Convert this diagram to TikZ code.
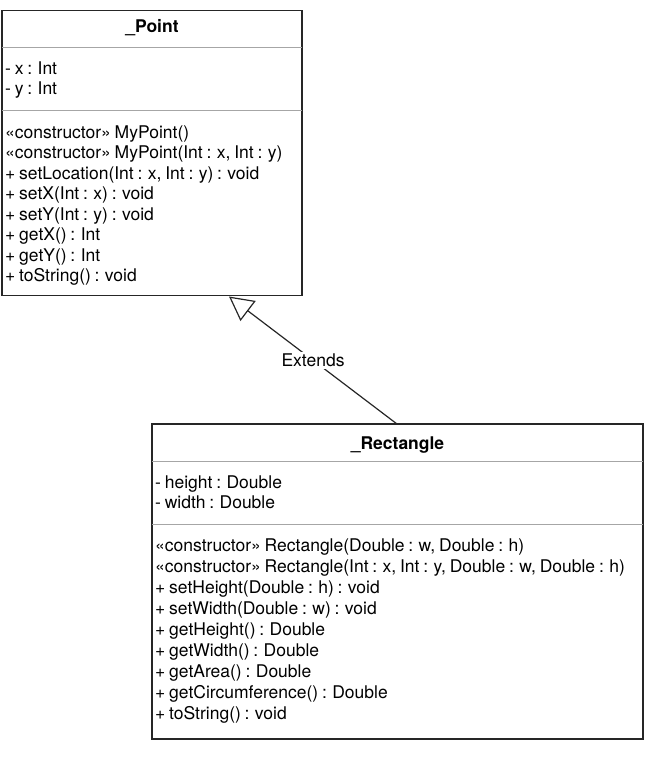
\documentclass[tikz,border=0pt]{standalone}
\usepackage{fontspec}
\setmainfont{TeX Gyre Heros}[WordSpace=0.78]
\usetikzlibrary{arrows.meta}
\begin{document}
\begin{tikzpicture}[x=1pt,y=-1pt,
  box/.style={draw=black!85, line width=1.3pt, fill=white, inner sep=0pt, outer sep=0pt, anchor=north west},
  sep/.style={draw=black!35, line width=1pt},
  row/.style={anchor=base west, inner sep=0pt, font=\fontsize{17.5}{20}\selectfont},
  title/.style={anchor=base, inner sep=0pt, font=\fontsize{17.5}{20}\selectfont\bfseries},
  inherit/.style={draw=black!85, line width=1.2pt, -{Triangle[open, length=24pt, width=25pt]}},
  lbl/.style={fill=white, inner sep=2pt, font=\fontsize{17.5}{20}\selectfont}]
\useasboundingbox (0,0) rectangle (665,763);
% Point class
\node[box, minimum width=300pt, minimum height=285pt] (pointbox) at (2,10.5) {};
\draw[sep] (pointbox.west |- 0,47) -- (pointbox.east |- 0,47);
\draw[sep] (pointbox.west |- 0,110) -- (pointbox.east |- 0,110);
\node[title] (ptitle) at (152,32) {\_Point};
\foreach \t [count=\i] in {{- x : Int},{- y : Int}}
  \node[row] (pa\i) at (5,{74+(\i-1)*20}) {\t};
\foreach \t [count=\i] in {{«constructor» MyPoint()},{«constructor» MyPoint(Int : x, Int : y)},{+ setLocation(Int : x, Int : y) : void},{+ setX(Int : x) : void},{+ setY(Int : y) : void},{+ getX() : Int},{+ getY() : Int},{+ toString() : void}}
  \node[row] (pm\i) at (5,{138+(\i-1)*20.5}) {\t};
% Rectangle class
\node[box, minimum width=491pt, minimum height=315pt] (rectbox) at (152,424) {};
\draw[sep] (rectbox.west |- 0,461.5) -- (rectbox.east |- 0,461.5);
\draw[sep] (rectbox.west |- 0,524.5) -- (rectbox.east |- 0,524.5);
\node[title] (rtitle) at (397.5,449) {\_Rectangle};
\foreach \t [count=\i] in {{- height : Double},{- width : Double}}
  \node[row] (ra\i) at (155,{488+(\i-1)*20}) {\t};
\foreach \t [count=\i] in {{«constructor» Rectangle(Double : w, Double : h)},{«constructor» Rectangle(Int : x, Int : y, Double : w, Double : h)},{+ setHeight(Double : h) : void},{+ setWidth(Double : w) : void},{+ getHeight() : Double},{+ getWidth() : Double},{+ getArea() : Double},{+ getCircumference() : Double},{+ toString() : void}}
  \node[row] (rm\i) at (155,{551+(\i-1)*21}) {\t};
% Generalization
\coordinate (ptip) at (229,296.5);
\coordinate (rtail) at (397,424);
\draw[inherit] (rtail) -- node[lbl, pos=0.5] (ext) {Extends} (ptip);
\end{tikzpicture}
\end{document}
